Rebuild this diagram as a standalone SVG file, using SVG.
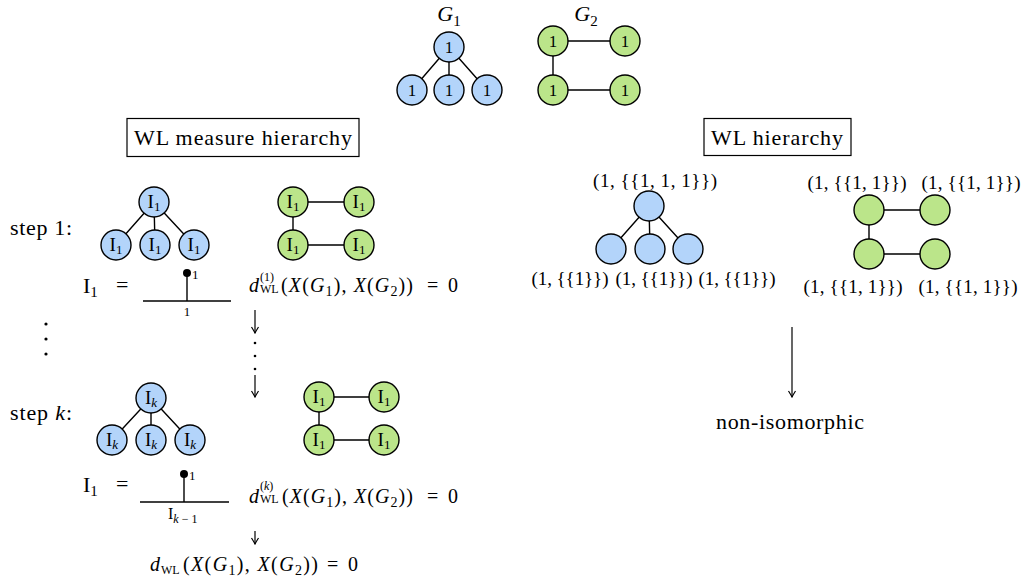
<svg xmlns="http://www.w3.org/2000/svg" width="1025" height="583" viewBox="0 0 1025 583">
<defs>
<style>
text{font-family:"Liberation Serif","DejaVu Serif",serif;fill:#000}
.e{stroke:#000;stroke-width:1.4;fill:none}
.nb{fill:#b3d4fa;stroke:#000;stroke-width:1.4}
.ng{fill:#bbe58a;stroke:#000;stroke-width:1.4}
.nl{font-size:17px;text-anchor:middle}
.il{font-size:19px;text-anchor:middle}
.sb{font-size:13px}
.lab{font-size:19px;text-anchor:middle}
.big{font-size:22px}
.f{font-size:20px}
.sm{font-size:13px}
.ss{font-size:12px}
.ar{stroke:#000;stroke-width:1.2;fill:none}
.i{font-style:italic}
.box{fill:#fff;stroke:#000;stroke-width:1.2}
</style>
<marker id="ah" viewBox="-8 -5 9 10" refX="0" refY="0" markerWidth="9" markerHeight="10" markerUnits="userSpaceOnUse" orient="auto"><path d="M-6,-3.5 Q-2,-1 0,0 Q-2,1 -6,3.5" fill="none" stroke="#000" stroke-width="1.2"/></marker>
</defs>
<rect width="1025" height="583" fill="#fff"/>

<g id="connectors">
  <path class="e" d="M449,47 L412,90 M449,47 L449,90 M449,47 L487,90"/>
  <path class="e" d="M553,41 L625,41 M553,41 L553,90 M553,90 L625,90"/>
  <path class="e" d="M154,202 L116,245 M154,202 L155,245 M154,202 L194,245"/>
  <path class="e" d="M293,202 L359,202 M293,202 L293,245 M293,245 L359,245"/>
  <path class="e" d="M151,398 L112,440 M151,398 L151,440 M151,398 L190,440"/>
  <path class="e" d="M319,397 L384,397 M319,397 L319,440 M319,440 L384,440"/>
  <path class="e" d="M649,206 L611,249 M649,206 L650,249 M649,206 L688,249"/>
  <path class="e" d="M869,210 L935,210 M869,210 L869,254 M869,254 L935,254"/>
  <line class="ar" x1="255" y1="310" x2="255" y2="333" marker-end="url(#ah)"/>
  <line class="ar" x1="255" y1="375" x2="255" y2="397" marker-end="url(#ah)"/>
  <line class="ar" x1="255" y1="531" x2="255" y2="544" marker-end="url(#ah)"/>
  <line class="ar" x1="792" y1="327" x2="792" y2="397" marker-end="url(#ah)"/>
</g>

<!-- titles -->
<g id="title-g1"><text x="449" y="21" class="big" text-anchor="middle"><tspan class="i">G</tspan><tspan font-size="15" dy="5">1</tspan></text></g>
<g id="title-g2"><text x="586" y="21" class="big" text-anchor="middle"><tspan class="i">G</tspan><tspan font-size="15" dy="5">2</tspan></text></g>

<!-- top G1 -->
<g id="g1-top"><circle class="nb" cx="449" cy="47" r="15"/><text class="nl" x="449" y="53">1</text></g>
<g id="g1-b1"><circle class="nb" cx="412" cy="90" r="15"/><text class="nl" x="412" y="96">1</text></g>
<g id="g1-b2"><circle class="nb" cx="449" cy="90" r="15"/><text class="nl" x="449" y="96">1</text></g>
<g id="g1-b3"><circle class="nb" cx="487" cy="90" r="15"/><text class="nl" x="487" y="96">1</text></g>
<!-- top G2 -->
<g id="g2-a"><circle class="ng" cx="553" cy="41" r="15"/><text class="nl" x="553" y="47">1</text></g>
<g id="g2-b"><circle class="ng" cx="625" cy="41" r="15"/><text class="nl" x="625" y="47">1</text></g>
<g id="g2-c"><circle class="ng" cx="553" cy="90" r="15"/><text class="nl" x="553" y="96">1</text></g>
<g id="g2-d"><circle class="ng" cx="625" cy="90" r="15"/><text class="nl" x="625" y="96">1</text></g>

<!-- boxes -->
<g id="box-measure"><rect class="box" x="127" y="118.5" width="232" height="38"/><text x="243" y="145" class="big" text-anchor="middle" textLength="218" lengthAdjust="spacing">WL measure hierarchy</text></g>
<g id="box-wl"><rect class="box" x="704" y="118.5" width="147" height="37"/><text x="777" y="145" class="big" text-anchor="middle" textLength="132" lengthAdjust="spacing">WL hierarchy</text></g>

<!-- step 1 -->
<g id="step1-label"><text x="10" y="235" class="big" textLength="62" lengthAdjust="spacing">step 1:</text></g>
<g id="s1-g1-top"><circle class="nb" cx="154" cy="202" r="15"/><text class="il" x="154" y="208">I<tspan class="sb" dy="3">1</tspan></text></g>
<g id="s1-g1-b1"><circle class="nb" cx="116" cy="245" r="15"/><text class="il" x="116" y="251">I<tspan class="sb" dy="3">1</tspan></text></g>
<g id="s1-g1-b2"><circle class="nb" cx="155" cy="245" r="15"/><text class="il" x="155" y="251">I<tspan class="sb" dy="3">1</tspan></text></g>
<g id="s1-g1-b3"><circle class="nb" cx="194" cy="245" r="15"/><text class="il" x="194" y="251">I<tspan class="sb" dy="3">1</tspan></text></g>
<g id="s1-g2-a"><circle class="ng" cx="293" cy="202" r="15"/><text class="il" x="293" y="208">I<tspan class="sb" dy="3">1</tspan></text></g>
<g id="s1-g2-b"><circle class="ng" cx="359" cy="202" r="15"/><text class="il" x="359" y="208">I<tspan class="sb" dy="3">1</tspan></text></g>
<g id="s1-g2-c"><circle class="ng" cx="293" cy="245" r="15"/><text class="il" x="293" y="251">I<tspan class="sb" dy="3">1</tspan></text></g>
<g id="s1-g2-d"><circle class="ng" cx="359" cy="245" r="15"/><text class="il" x="359" y="251">I<tspan class="sb" dy="3">1</tspan></text></g>

<g id="s1-tree">
  <text x="83" y="293" class="big">I<tspan font-size="15" dy="4">1</tspan></text>
  <text x="116" y="292" class="big">=</text>
  <line class="e" x1="143" y1="301" x2="231" y2="301"/>
  <line class="e" x1="187" y1="301" x2="187" y2="273"/>
  <circle cx="187" cy="273" r="4" fill="#000"/>
  <text x="192" y="279" class="sm">1</text>
  <text x="187" y="316" class="sm" text-anchor="middle">1</text>
</g>
<g id="s1-formula">
  <text x="249" y="292" class="f i">d</text>
  <text x="260" y="281" class="ss">(1)</text>
  <text x="260" y="293" class="ss">WL</text>
  <text x="281" y="292" class="f" textLength="132" lengthAdjust="spacing">(<tspan class="i">X</tspan>(<tspan class="i">G</tspan><tspan font-size="14" dy="4">1</tspan><tspan dy="-4">), </tspan><tspan class="i">X</tspan>(<tspan class="i">G</tspan><tspan font-size="14" dy="4">2</tspan><tspan dy="-4">))</tspan></text>
  <text x="427" y="292" class="f">=</text>
  <text x="448" y="292" class="f">0</text>
</g>

<g id="vdots-left">
  <circle cx="46" cy="324" r="1.6" fill="#000"/>
  <circle cx="46" cy="339" r="1.6" fill="#000"/>
  <circle cx="46" cy="354" r="1.6" fill="#000"/>
</g>
<g id="vdots-mid">
  <circle cx="255" cy="343" r="1.3" fill="#000"/>
  <circle cx="255" cy="356" r="1.3" fill="#000"/>
  <circle cx="255" cy="369" r="1.3" fill="#000"/>
</g>

<!-- step k -->
<g id="stepk-label"><text x="10" y="420" class="big" textLength="62" lengthAdjust="spacing">step <tspan class="i">k</tspan>:</text></g>
<g id="sk-g1-top"><circle class="nb" cx="151" cy="398" r="15"/><text class="il" x="151" y="404">I<tspan class="sb i" dy="3">k</tspan></text></g>
<g id="sk-g1-b1"><circle class="nb" cx="112" cy="440" r="15"/><text class="il" x="112" y="446">I<tspan class="sb i" dy="3">k</tspan></text></g>
<g id="sk-g1-b2"><circle class="nb" cx="151" cy="440" r="15"/><text class="il" x="151" y="446">I<tspan class="sb i" dy="3">k</tspan></text></g>
<g id="sk-g1-b3"><circle class="nb" cx="190" cy="440" r="15"/><text class="il" x="190" y="446">I<tspan class="sb i" dy="3">k</tspan></text></g>
<g id="sk-g2-a"><circle class="ng" cx="319" cy="397" r="15"/><text class="il" x="319" y="403">I<tspan class="sb" dy="3">1</tspan></text></g>
<g id="sk-g2-b"><circle class="ng" cx="384" cy="397" r="15"/><text class="il" x="384" y="403">I<tspan class="sb" dy="3">1</tspan></text></g>
<g id="sk-g2-c"><circle class="ng" cx="319" cy="440" r="15"/><text class="il" x="319" y="446">I<tspan class="sb" dy="3">1</tspan></text></g>
<g id="sk-g2-d"><circle class="ng" cx="384" cy="440" r="15"/><text class="il" x="384" y="446">I<tspan class="sb" dy="3">1</tspan></text></g>

<g id="sk-tree">
  <text x="83" y="492" class="big">I<tspan font-size="15" dy="4">1</tspan></text>
  <text x="116" y="491" class="big">=</text>
  <line class="e" x1="140" y1="502" x2="229" y2="502"/>
  <line class="e" x1="184" y1="502" x2="184" y2="474"/>
  <circle cx="184" cy="474" r="4" fill="#000"/>
  <text x="189" y="480" class="sm">1</text>
  <text x="168" y="519" font-size="16">I<tspan font-size="12" dy="4"><tspan class="i">k</tspan> − 1</tspan></text>
</g>
<g id="sk-formula">
  <text x="249" y="503" class="f i">d</text>
  <text x="260" y="490" class="ss">(<tspan class="i">k</tspan>)</text>
  <text x="260" y="503" class="ss">WL</text>
  <text x="282" y="503" class="f" textLength="131" lengthAdjust="spacing">(<tspan class="i">X</tspan>(<tspan class="i">G</tspan><tspan font-size="14" dy="4">1</tspan><tspan dy="-4">), </tspan><tspan class="i">X</tspan>(<tspan class="i">G</tspan><tspan font-size="14" dy="4">2</tspan><tspan dy="-4">))</tspan></text>
  <text x="427" y="503" class="f">=</text>
  <text x="448" y="503" class="f">0</text>
</g>
<g id="final-formula">
  <text x="150" y="571" class="f i">d</text>
  <text x="161" y="574" class="ss">WL</text>
  <text x="183" y="571" class="f" textLength="135" lengthAdjust="spacing">(<tspan class="i">X</tspan>(<tspan class="i">G</tspan><tspan font-size="14" dy="4">1</tspan><tspan dy="-4">), </tspan><tspan class="i">X</tspan>(<tspan class="i">G</tspan><tspan font-size="14" dy="4">2</tspan><tspan dy="-4">))</tspan></text>
  <text x="327" y="571" class="f">=</text>
  <text x="348" y="571" class="f">0</text>
</g>

<!-- right: WL hierarchy -->
<g id="r-g1-top"><circle class="nb" cx="649" cy="206" r="15"/><text class="lab" x="655" y="187" textLength="124" lengthAdjust="spacing">(1, {{1, 1, 1}})</text></g>
<g id="r-g1-b1"><circle class="nb" cx="611" cy="249" r="15"/><text class="lab" x="570" y="285" textLength="77" lengthAdjust="spacing">(1, {{1}})</text></g>
<g id="r-g1-b2"><circle class="nb" cx="650" cy="249" r="15"/><text class="lab" x="654" y="285" textLength="77" lengthAdjust="spacing">(1, {{1}})</text></g>
<g id="r-g1-b3"><circle class="nb" cx="688" cy="249" r="15"/><text class="lab" x="737" y="285" textLength="77" lengthAdjust="spacing">(1, {{1}})</text></g>
<g id="r-g2-a"><circle class="ng" cx="869" cy="210" r="15"/><text class="lab" x="857" y="189" textLength="99" lengthAdjust="spacing">(1, {{1, 1}})</text></g>
<g id="r-g2-b"><circle class="ng" cx="935" cy="210" r="15"/><text class="lab" x="971" y="189" textLength="99" lengthAdjust="spacing">(1, {{1, 1}})</text></g>
<g id="r-g2-c"><circle class="ng" cx="869" cy="254" r="15"/><text class="lab" x="853" y="293" textLength="99" lengthAdjust="spacing">(1, {{1, 1}})</text></g>
<g id="r-g2-d"><circle class="ng" cx="935" cy="254" r="15"/><text class="lab" x="968" y="293" textLength="99" lengthAdjust="spacing">(1, {{1, 1}})</text></g>

<g id="result"><text x="790" y="429" class="big" text-anchor="middle" textLength="148" lengthAdjust="spacing">non-isomorphic</text></g>
</svg>
